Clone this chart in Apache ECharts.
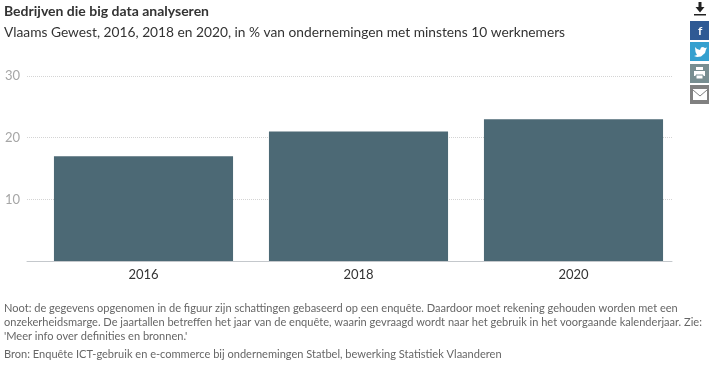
<!DOCTYPE html>
<html>
<head>
<meta charset="utf-8">
<script src="https://cdn.jsdelivr.net/npm/echarts@6/dist/echarts.min.js"></script>
<style>
html, body { margin: 0; padding: 0; background: #fff; }
#chart { width: 714px; height: 366px; }
</style>
</head>
<body>
<div id="chart"></div>
<script>
var categories = ['2016', '2018', '2020'];
var values = [17, 21, 23];
var tickLabels = [10, 20, 30];
var titleText = 'Bedrijven die big data analyseren';
var subtitleText = 'Vlaams Gewest, 2016, 2018 en 2020, in % van ondernemingen met minstens 10 werknemers';
var noteLines = [
    'Noot: de gegevens opgenomen in de figuur zijn schattingen gebaseerd op een enquête. Daardoor moet rekening gehouden worden met een',
    'onzekerheidsmarge. De jaartallen betreffen het jaar van de enquête, waarin gevraagd wordt naar het gebruik in het voorgaande kalenderjaar. Zie:',
    "'Meer info over definities en bronnen.'"
];
var sourceText = 'Bron: Enquête ICT-gebruik en e-commerce bij ondernemingen Statbel, bewerking Statistiek Vlaanderen';

var chart = echarts.init(document.getElementById('chart'));
var font = 'Lato';

function label(x, y, text, size, color, weight) {
    return {
        type: 'text', x: x, y: y,
        style: { text: text, font: (weight || 'normal') + ' ' + size + 'px ' + font, fill: color, textVerticalAlign: 'middle' }
    };
}

// kleine knoppen rechtsboven
function button(y, color) {
    return { type: 'rect', shape: { x: 690, y: y, width: 19, height: 19 }, style: { fill: color } };
}

var graphics = [
    label(4, 11, titleText, 14, '#333333', 'bold'),
    label(4, 33, subtitleText, 13.75, '#333333'),
    label(4, 308, noteLines[0], 11.05, '#666666'),
    label(4, 322, noteLines[1], 11.05, '#666666'),
    label(4, 336, noteLines[2], 11.05, '#666666'),
    label(4, 354, sourceText, 11.05, '#666666'),
    // download
    { type: 'rect', shape: { x: 694, y: 14, width: 12, height: 1.5 }, style: { fill: '#222' } },
    { type: 'polygon', shape: { points: [[698.5, 2], [701.5, 2], [701.5, 7], [704.5, 7], [700, 12.5], [695.5, 7], [698.5, 7]] }, style: { fill: '#222' } },
    button(21, '#2f5a94'),
    button(42, '#34a0cf'),
    button(64, '#788e91'),
    button(85, '#808080'),
    label(698, 31, 'f', 12, '#ffffff', 'bold'),
    // twitter
    { type: 'polygon', shape: { points: [[695, 47], [697, 49], [700, 50], [701, 47.500], [703, 47], [705, 48], [707, 47.500], [706, 49.500], [705, 53], [701, 56.500], [697, 57], [694, 56], [697, 55], [695.500, 52]] }, style: { fill: '#ffffff' } },
    // print
    { type: 'rect', shape: { x: 696, y: 67, width: 7, height: 3 }, style: { fill: '#ffffff' } },
    { type: 'rect', shape: { x: 694, y: 71, width: 11, height: 5 }, style: { fill: '#ffffff' } },
    { type: 'rect', shape: { x: 696, y: 75, width: 7, height: 4 }, style: { fill: '#ffffff', stroke: '#788e91', lineWidth: 1 } },
    // mail
    { type: 'rect', shape: { x: 693, y: 89, width: 14, height: 11 }, style: { fill: '#ffffff' } },
    { type: 'polyline', shape: { points: [[693, 90], [700, 96], [707, 90]] }, style: { fill: 'none', stroke: '#808080', lineWidth: 1 } }
];

var option = {
    animation: false,
    backgroundColor: '#ffffff',
    textStyle: { fontFamily: font },
    graphic: graphics,
    // grid 0: rasterlijnen en y-as, grid 1: de balken (ligt iets naar rechts)
    grid: [
        { left: 27, right: 42, top: 76, height: 185 },
        { left: 36, width: 645, top: 76, height: 185 }
    ],
    xAxis: [
        {
            type: 'category', gridIndex: 0, data: categories,
            axisTick: { show: false }, axisLabel: { show: false },
            axisLine: { lineStyle: { color: '#c4c8cc', width: 1 } }
        },
        {
            type: 'category', gridIndex: 1, data: categories,
            axisTick: { show: false }, axisLine: { show: false },
            axisLabel: { color: '#333333', fontSize: 13, margin: 7, fontFamily: font }
        }
    ],
    yAxis: [
        {
            type: 'value', gridIndex: 0, min: 0, max: 30, interval: 10,
            axisLine: { show: false }, axisTick: { show: false },
            axisLabel: {
                color: '#a6a6a6', fontSize: 13, margin: 7, fontFamily: font,
                formatter: function (v) { return tickLabels.indexOf(v) >= 0 ? v : ''; }
            },
            splitLine: { lineStyle: { color: '#d4d4d4', width: 1, type: 'dotted' } }
        },
        {
            type: 'value', gridIndex: 1, min: 0, max: 30, interval: 10,
            axisLine: { show: false }, axisTick: { show: false },
            axisLabel: { show: false }, splitLine: { show: false }
        }
    ],
    series: [
        {
            name: 'Big data',
            type: 'bar',
            xAxisIndex: 1,
            yAxisIndex: 1,
            data: values,
            barCategoryGap: '16.7%',
            itemStyle: { color: '#4c6975' }
        }
    ]
};

chart.setOption(option);
</script>
</body>
</html>
